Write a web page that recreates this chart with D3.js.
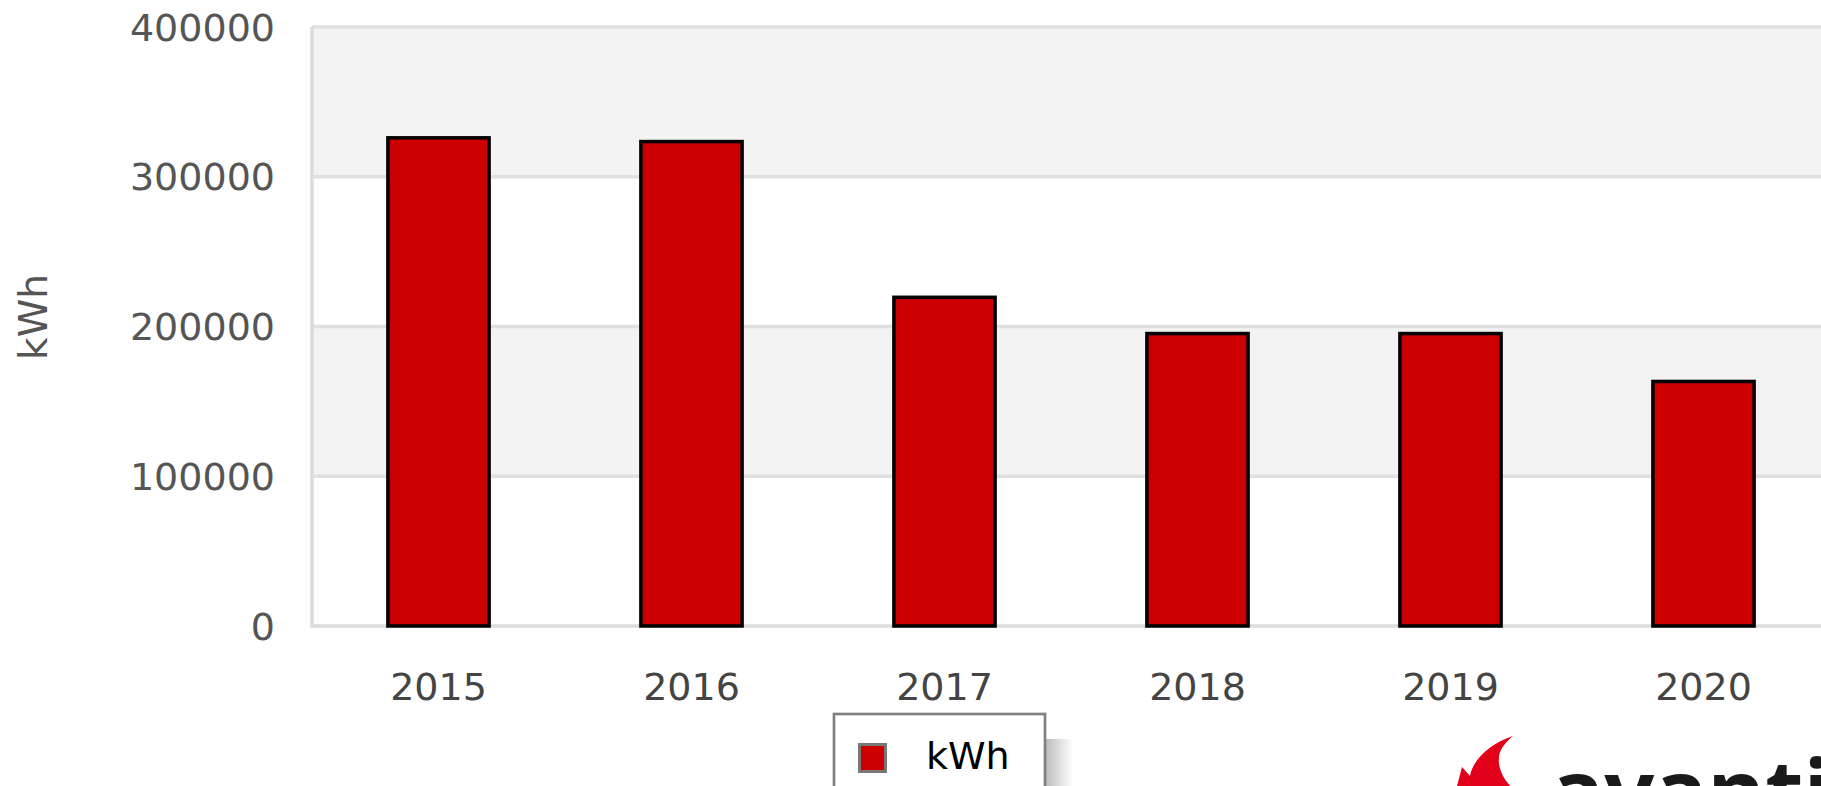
<!DOCTYPE html>
<html>
  <head>
    <meta charset="utf-8">
    <script src="https://d3js.org/d3.v7.min.js"></script>
    <title>kWh per year</title>
    <style>
      body { margin: 0px; background: #fff; overflow: hidden; }
      text { font-family: "DejaVu Sans", sans-serif; }
    </style>
  </head>
  <body>
    <svg width="1821" height="786"></svg>
    <script>
      const years = ['2015', '2016', '2017', '2018', '2019', '2020'];
      const kwh = [326000, 323500, 219500, 195300, 195300, 163300];
      const yTicks = [0, 100000, 200000, 300000, 400000];
      const seriesName = 'kWh';

      const svg = d3.select('svg');
      const margin = { left: 312, top: 27 };
      const plotRight = 1830;   // plot runs off the right edge
      const plotBottom = 626;

      const xScale = d3.scaleBand()
        .domain(years)
        .range([margin.left, plotRight])
        .paddingInner(0.6)
        .paddingOuter(0.3);

      const yScale = d3.scaleLinear()
        .domain([0, 400000])
        .range([plotBottom, margin.top]);

      // alternating bands
      svg.append('g').selectAll('rect')
        .data(d3.pairs(yTicks))
        .enter().append('rect')
          .attr('x', margin.left)
          .attr('y', d => yScale(d[1]))
          .attr('width', plotRight - margin.left)
          .attr('height', d => yScale(d[0]) - yScale(d[1]))
          .style('fill', (d, i) => i % 2 ? '#f3f3f3' : '#ffffff');

      // grid lines
      svg.append('g').selectAll('line')
        .data(yTicks.slice(1))
        .enter().append('line')
          .attr('x1', margin.left).attr('x2', plotRight)
          .attr('y1', d => yScale(d)).attr('y2', d => yScale(d))
          .style('stroke', '#e0e0e0')
          .style('stroke-width', 3.5);

      // frame (left + bottom)
      svg.append('path')
        .attr('d', `M${margin.left},${margin.top} V${plotBottom} H${plotRight}`)
        .style('fill', 'none')
        .style('stroke', '#dcdcdc')
        .style('stroke-width', 3.5);

      // bars
      svg.append('g').selectAll('rect')
        .data(years)
        .enter().append('rect')
          .attr('x', d => xScale(d))
          .attr('y', (d, i) => yScale(kwh[i]))
          .attr('width', xScale.bandwidth())
          .attr('height', (d, i) => plotBottom - yScale(kwh[i]))
          .style('fill', '#cc0000')
          .style('stroke', '#000')
          .style('stroke-width', 3.5);

      // y tick labels
      svg.append('g').selectAll('text')
        .data(yTicks)
        .enter().append('text')
          .attr('x', 275)
          .attr('y', d => yScale(d))
          .attr('dy', '0.36em')
          .attr('font-size', '38px')
          .style('text-anchor', 'end')
          .style('fill', '#555')
          .text(d => d);

      // x tick labels
      svg.append('g').selectAll('text')
        .data(years)
        .enter().append('text')
          .attr('x', d => xScale(d) + xScale.bandwidth() / 2)
          .attr('y', 700)
          .attr('font-size', '38px')
          .style('text-anchor', 'middle')
          .style('fill', '#444')
          .text(d => d);

      // y axis title
      svg.append('text')
        .attr('transform', 'translate(47, 317) rotate(-90)')
        .attr('font-size', '39px')
        .style('text-anchor', 'middle')
        .style('fill', '#555')
        .text(seriesName);

      // legend with soft shadow
      const grad = svg.append('defs').append('linearGradient')
        .attr('id', 'shadow');
      grad.append('stop').attr('offset', '0%').attr('stop-color', '#bdbdbd');
      grad.append('stop').attr('offset', '100%').attr('stop-color', '#ffffff');

      svg.append('rect')
        .attr('x', 1046).attr('y', 739)
        .attr('width', 27).attr('height', 60)
        .style('fill', 'url(#shadow)');

      svg.append('rect')
        .attr('x', 834).attr('y', 714)
        .attr('width', 211).attr('height', 100)
        .style('fill', '#fff')
        .style('stroke', '#808080')
        .style('stroke-width', 2.7);

      svg.append('rect')
        .attr('x', 859.5).attr('y', 744.5)
        .attr('width', 26).attr('height', 27)
        .style('fill', '#cc0000')
        .style('stroke', '#777')
        .style('stroke-width', 3);

      svg.append('text')
        .attr('x', 926).attr('y', 769)
        .attr('font-size', '38px')
        .style('fill', '#000')
        .text(seriesName);

      // logo (cut off at the bottom)
      svg.append('path')
        .attr('d', 'M1513,736 C1488,744 1472,762 1470,776 L1462,767 L1456,790 L1514,790 C1502,778 1496,765 1500,752 C1503,745 1508,740 1513,736 Z')
        .style('fill', '#e2001a');

      svg.append('text')
        .attr('x', 1551).attr('y', 823)
        .attr('font-size', '88px')
        .style('font-family', '"Open Sans", sans-serif')
        .style('font-weight', 700)
        .style('fill', '#1a1a1a')
        .text('avanti');
    </script>
  </body>
</html>
